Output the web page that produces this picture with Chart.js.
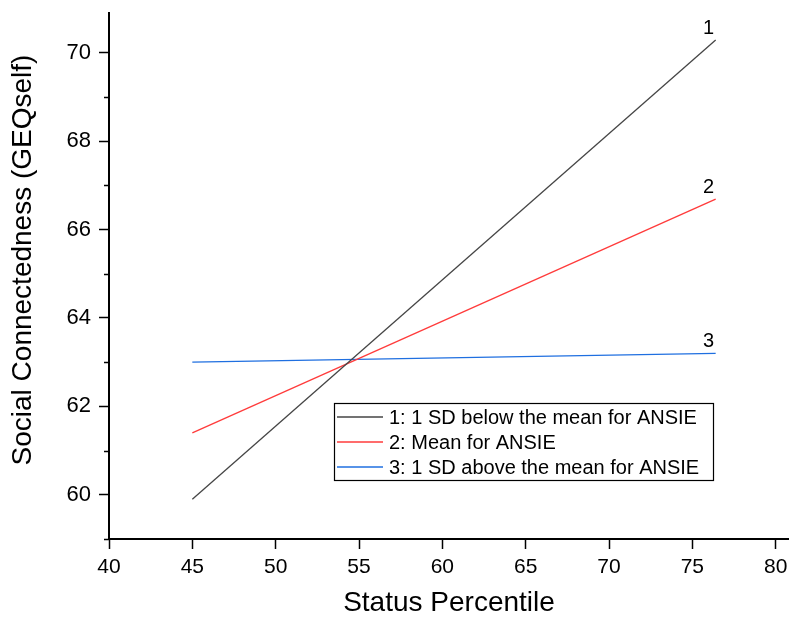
<!DOCTYPE html>
<html>
<head>
<meta charset="utf-8">
<script src="https://cdn.jsdelivr.net/npm/chart.js@4"></script>
<style>
  html, body { margin: 0; padding: 0; background: #fff; }
  #wrap { width: 789px; height: 617px; }
</style>
</head>
<body>
<div id="wrap"><canvas id="myChart" width="789" height="617"></canvas></div>
<script>
// simple slopes: connectedness vs status percentile at three ANSIE levels
const statusX = [45, 76.4];
const belowMean = [59.9, 70.29];
const atMean = [61.4, 66.69];
const aboveMean = [63.0, 63.2];

const seriesTags = ['1', '2', '3'];
const seriesNames = ['1 SD below the mean for ANSIE', 'Mean for ANSIE', '1 SD above the mean for ANSIE'];
const seriesColors = ['#454545', '#ff3b3b', '#1f6fe0'];

const xTickLabels = [40, 45, 50, 55, 60, 65, 70, 75, 80];
const yTickLabels = [60, 62, 64, 66, 68, 70];
const yTitle = 'Social Connectedness (GEQself)';

const FONT = 'Liberation Sans, Arial, Helvetica, sans-serif';

function toPoints(ys) {
    return statusX.map((x, i) => ({ x: x, y: ys[i] }));
}

// keep the plot box fixed, no extra room for edge labels
function noEdgePadding(scale) {
    scale.paddingTop = 0;
    scale.paddingBottom = 0;
    scale.paddingLeft = 0;
    scale.paddingRight = 0;
}

// short ticks for the odd y values
const minorTicks = {
    id: 'minorTicks',
    afterDraw(chart) {
        const ctx = chart.ctx;
        const yScale = chart.scales.y;
        ctx.save();
        ctx.strokeStyle = '#000';
        ctx.lineWidth = 1.5;
        yScale.ticks.forEach(t => {
            if (yTickLabels.includes(t.value)) return;
            const py = Math.round(yScale.getPixelForValue(t.value)) + 0.5;
            ctx.beginPath();
            ctx.moveTo(yScale.right - 5, py);
            ctx.lineTo(yScale.right, py);
            ctx.stroke();
        });
        ctx.restore();
    }
};

// y title sits a little above the middle of the axis
const sideTitle = {
    id: 'sideTitle',
    afterDraw(chart) {
        const ctx = chart.ctx;
        const area = chart.chartArea;
        ctx.save();
        ctx.translate(23, (area.top + area.bottom) / 2 - 16);
        ctx.rotate(-Math.PI / 2);
        ctx.font = '28px ' + FONT;
        ctx.fillStyle = '#000';
        ctx.textAlign = 'center';
        ctx.textBaseline = 'middle';
        ctx.fillText(yTitle, 0, 0);
        ctx.restore();
    }
};

// number tag above the end of each line
const endTags = {
    id: 'endTags',
    afterDatasetsDraw(chart) {
        const ctx = chart.ctx;
        ctx.save();
        ctx.font = '20px ' + FONT;
        ctx.fillStyle = '#000';
        ctx.textAlign = 'center';
        ctx.textBaseline = 'alphabetic';
        chart.data.datasets.forEach((ds, i) => {
            const last = ds.data[ds.data.length - 1];
            const px = chart.scales.x.getPixelForValue(last.x);
            const py = chart.scales.y.getPixelForValue(last.y);
            ctx.fillText(seriesTags[i], px - 7, py - 6);
        });
        ctx.restore();
    }
};

// boxed legend sitting inside the plot
const boxLegend = {
    id: 'boxLegend',
    afterDraw(chart) {
        const ctx = chart.ctx;
        const left = 334, top = 403, w = 379, h = 77;
        ctx.save();
        ctx.fillStyle = '#fff';
        ctx.fillRect(left, top, w, h);
        ctx.strokeStyle = '#000';
        ctx.lineWidth = 1.2;
        ctx.strokeRect(left + 0.5, top + 0.5, w, h);
        ctx.font = '20px ' + FONT;
        ctx.textAlign = 'left';
        ctx.textBaseline = 'middle';
        chart.data.datasets.forEach((ds, i) => {
            const rowY = top + 14 + i * 25;
            ctx.strokeStyle = ds.borderColor;
            ctx.lineWidth = 1.5;
            ctx.beginPath();
            ctx.moveTo(left + 3, rowY);
            ctx.lineTo(left + 49, rowY);
            ctx.stroke();
            ctx.fillStyle = '#000';
            ctx.fillText(ds.label, left + 55, rowY + 1);
        });
        ctx.restore();
    }
};

const ctx = document.getElementById('myChart').getContext('2d');
const myChart = new Chart(ctx, {
    type: 'line',
    data: {
        datasets: [belowMean, atMean, aboveMean].map((ys, i) => ({
            label: seriesTags[i] + ': ' + seriesNames[i],
            data: toPoints(ys),
            borderColor: seriesColors[i],
            borderWidth: 1.3,
            pointRadius: 0,
            fill: false,
            tension: 0
        }))
    },
    options: {
        responsive: false,
        animation: false,
        layout: { padding: { top: 13, right: 0, bottom: 0, left: 0 } },
        plugins: {
            legend: { display: false },
            tooltip: { enabled: false }
        },
        scales: {
            x: {
                type: 'linear',
                min: 40,
                max: 80.8,
                afterFit(scale) { scale.height = 78; noEdgePadding(scale); },
                border: { display: true, color: '#000', width: 2 },
                grid: { drawOnChartArea: false, tickLength: 10, tickColor: '#000', tickWidth: 1.5 },
                ticks: {
                    stepSize: 5,
                    includeBounds: false,
                    padding: 6,
                    color: '#000',
                    font: { family: FONT, size: 21 },
                    callback: v => xTickLabels.includes(v) ? String(v) : ''
                },
                title: {
                    display: true,
                    text: 'Status Percentile',
                    color: '#000',
                    font: { family: FONT, size: 28, lineHeight: 1 },
                    padding: { top: 0, bottom: 0 }
                }
            },
            y: {
                type: 'linear',
                min: 59,
                max: 70.9,
                afterFit(scale) { scale.width = 109; noEdgePadding(scale); },
                border: { display: true, color: '#000', width: 2 },
                grid: {
                    drawOnChartArea: false,
                    tickLength: 10,
                    tickWidth: 1.5,
                    tickColor: c => yTickLabels.includes(c.tick.value) ? '#000' : 'rgba(0,0,0,0)'
                },
                ticks: {
                    stepSize: 1,
                    includeBounds: false,
                    padding: 8,
                    color: '#000',
                    font: { family: FONT, size: 22 },
                    callback: v => yTickLabels.includes(v) ? String(v) : ''
                }
            }
        }
    },
    plugins: [minorTicks, sideTitle, endTags, boxLegend]
});
</script>
</body>
</html>
